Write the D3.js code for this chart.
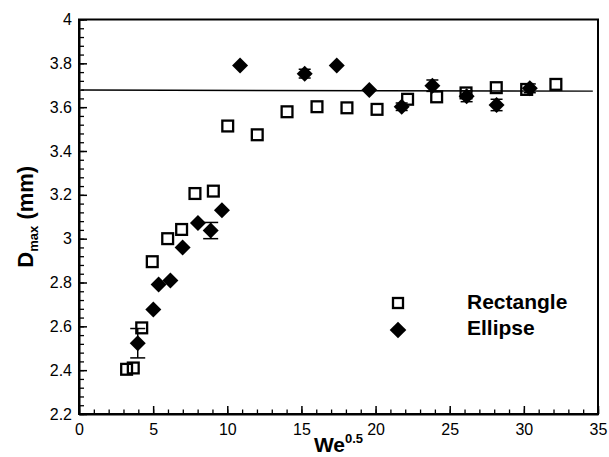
<!DOCTYPE html>
<html>
<head>
<meta charset="utf-8">
<script src="https://cdn.jsdelivr.net/npm/d3@7"></script>
<style>
  body { margin: 0; background: #fff; }
  text { font-family: Arial, "Liberation Sans", sans-serif; }
</style>
</head>
<body>
<script>
// data
const rectX = [3.21, 3.66, 4.23, 4.94, 5.98, 6.92, 7.82, 9.06, 10.03, 12.02, 14.03, 16.05, 18.07, 20.1, 22.16, 24.12, 26.1, 28.14, 30.19, 32.16];
const rectY = [2.404, 2.41, 2.593, 2.895, 3.0, 3.042, 3.206, 3.217, 3.514, 3.474, 3.579, 3.602, 3.597, 3.59, 3.636, 3.647, 3.665, 3.689, 3.681, 3.704];

const ellX = [3.96, 5.01, 5.37, 6.16, 6.99, 8.02, 8.88, 9.64, 10.86, 15.22, 17.38, 19.58, 21.76, 23.83, 26.14, 28.16, 30.4];
const ellY = [2.523, 2.677, 2.791, 2.809, 2.96, 3.072, 3.037, 3.13, 3.79, 3.753, 3.79, 3.678, 3.602, 3.698, 3.65, 3.61, 3.686];
const ellErr = [0.067, 0, 0, 0, 0, 0, 0.037, 0, 0, 0.02, 0, 0, 0.017, 0.026, 0.025, 0.026, 0.02];

// fitted horizontal line
const fitX = [0.15, 34.65];
const fitY = [3.678, 3.673];

// ticks
const xTicks = [0, 5, 10, 15, 20, 25, 30, 35];
const yTicks = [2.2, 2.4, 2.6, 2.8, 3, 3.2, 3.4, 3.6, 3.8, 4];
const xMinor = d3.range(0, 35.01, 1);
const yMinor = d3.range(2.2, 4.001, 0.04);

const seriesNames = ['Rectangle', 'Ellipse'];

// constants
const width = 609;
const height = 457;
const margin = { top: 19.5, bottom: 43, left: 79, right: 11 };

const svg = d3.select('body').append('svg')
  .attr('width', width).attr('height', height);

const xScale = d3.scaleLinear().domain([0, 35])
  .range([margin.left, width - margin.right]);
const yScale = d3.scaleLinear().domain([2.2, 4])
  .range([height - margin.bottom, margin.top]);

const fmt = (d) => String(+d.toFixed(1));

// minor ticks
svg.append('g').attr('transform', `translate(0, ${height - margin.bottom})`)
  .call(d3.axisBottom(xScale).tickValues(xMinor).tickSize(-4.5).tickFormat(''))
  .call(g => g.select('.domain').remove())
  .selectAll('line').attr('stroke-width', 1.3);
svg.append('g').attr('transform', `translate(${margin.left}, 0)`)
  .call(d3.axisLeft(yScale).tickValues(yMinor).tickSize(-5).tickFormat(''))
  .call(g => g.select('.domain').remove())
  .selectAll('line').attr('stroke-width', 1.3);

// major axes
const xAxis = svg.append('g').attr('class', 'xAxis')
  .attr('transform', `translate(0, ${height - margin.bottom})`)
  .call(d3.axisBottom(xScale).tickValues(xTicks).tickSize(-8).tickSizeOuter(0).tickPadding(10).tickFormat(fmt));
const yAxis = svg.append('g').attr('class', 'yAxis')
  .attr('transform', `translate(${margin.left}, 0)`)
  .call(d3.axisLeft(yScale).tickValues(yTicks).tickSize(-8).tickSizeOuter(0).tickPadding(7).tickFormat(fmt));

[xAxis, yAxis].forEach(g => {
  g.selectAll('text').attr('font-size', 16).attr('fill', '#000')
    .attr('font-family', 'Arial, "Liberation Sans", sans-serif');
  g.selectAll('line').attr('stroke-width', 1.5);
  g.select('.domain').attr('stroke-width', 2);
});

// frame
svg.append('rect')
  .attr('x', xScale(0)).attr('y', yScale(4))
  .attr('width', xScale(35) - xScale(0)).attr('height', yScale(2.2) - yScale(4))
  .attr('fill', 'none').attr('stroke', '#000').attr('stroke-width', 2);

// fit line
svg.append('path').datum(fitX.map((x, i) => [x, fitY[i]]))
  .attr('d', d3.line().x(d => xScale(d[0])).y(d => yScale(d[1])))
  .attr('fill', 'none').attr('stroke', '#000').attr('stroke-width', 1.4);

// error bars on ellipse
const ellData = ellX.map((x, i) => ({ x, y: ellY[i], e: ellErr[i] }));
const errG = svg.append('g').attr('stroke', '#000').attr('stroke-width', 1.5);
ellData.filter(d => d.e > 0).forEach(d => {
  const cx = xScale(d.x), y0 = yScale(d.y - d.e), y1 = yScale(d.y + d.e);
  const w = d.e > 0.03 ? 7.5 : 6;
  errG.append('line').attr('x1', cx).attr('x2', cx).attr('y1', y0).attr('y2', y1);
  errG.append('line').attr('x1', cx - w).attr('x2', cx + w).attr('y1', y0).attr('y2', y0);
  errG.append('line').attr('x1', cx - w).attr('x2', cx + w).attr('y1', y1).attr('y2', y1);
});

// markers
const sq = 10.8;
const diamond = (cx, cy, r) => `M${cx},${cy - r}L${cx + r},${cy}L${cx},${cy + r}L${cx - r},${cy}Z`;

svg.append('g').selectAll('path').data(ellData).enter().append('path')
  .attr('d', d => diamond(xScale(d.x), yScale(d.y), 8))
  .attr('fill', '#000');

svg.append('g').selectAll('rect').data(rectX.map((x, i) => ({ x, y: rectY[i] }))).enter().append('rect')
  .attr('x', d => xScale(d.x) - sq / 2).attr('y', d => yScale(d.y) - sq / 2)
  .attr('width', sq).attr('height', sq)
  .attr('fill', 'none').attr('stroke', '#000').attr('stroke-width', 2.3);

// legend
const legend = svg.append('g');
legend.append('rect').attr('x', 398 - 5).attr('y', 303 - 5).attr('width', 10).attr('height', 10)
  .attr('fill', 'none').attr('stroke', '#000').attr('stroke-width', 2.3);
legend.append('path').attr('d', diamond(398, 330, 8.3)).attr('fill', '#000');
legend.selectAll('text').data(seriesNames).enter().append('text')
  .attr('x', 467).attr('y', (d, i) => 308.5 + i * 26.5)
  .attr('font-size', 21).attr('font-weight', 'bold').text(d => d);

// axis titles
const xt = svg.append('text').attr('x', (xScale(0) + xScale(35)) / 2).attr('y', 452)
  .attr('text-anchor', 'middle').attr('font-size', 21).attr('font-weight', 'bold');
xt.append('tspan').text('We');
xt.append('tspan').attr('font-size', 13).attr('dy', -9).text('0.5');

const yt = svg.append('text')
  .attr('transform', `translate(33, ${(yScale(2.2) + yScale(4)) / 2}) rotate(-90)`)
  .attr('text-anchor', 'middle').attr('font-size', 22).attr('font-weight', 'bold');
yt.append('tspan').text('D');
yt.append('tspan').attr('font-size', 13).attr('dy', 5).text('max');
yt.append('tspan').attr('dy', -5).text(' (mm)');
</script>
</body>
</html>
